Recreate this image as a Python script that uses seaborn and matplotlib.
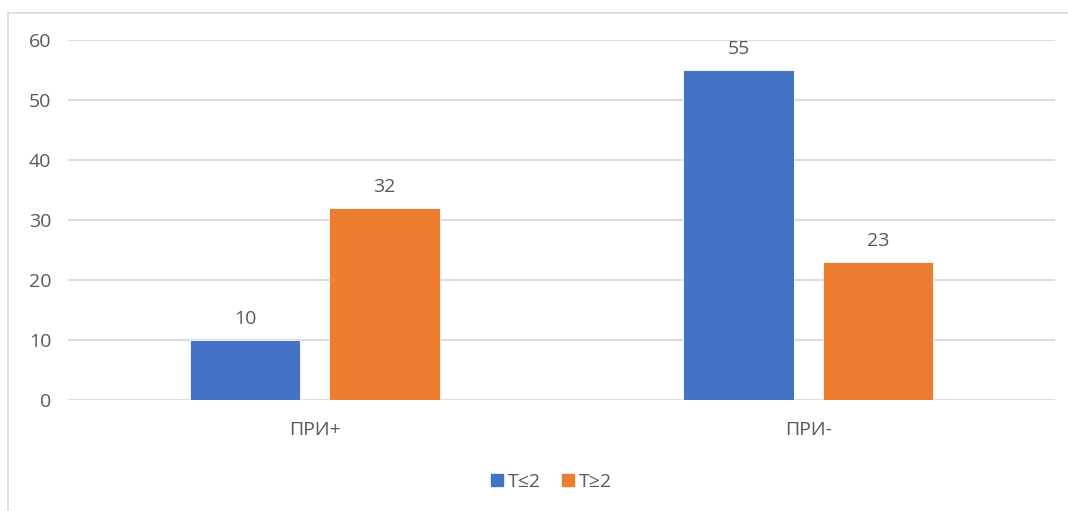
import matplotlib
matplotlib.use("Agg")
import matplotlib.pyplot as plt
from matplotlib.lines import Line2D
import seaborn as sns
import pandas as pd

categories = ["ПРИ+", "ПРИ-"]
series_names = ["T≤2", "T≥2"]
values_t_le2 = [10, 55]
values_t_ge2 = [32, 23]
y_ticks = [0, 10, 20, 30, 40, 50, 60]

colors = ["#4472C4", "#ED7D31"]
text_color = "#595959"
grid_color = "#D9D9D9"

df = pd.DataFrame({
    "category": categories * 2,
    "series": [series_names[0]] * 2 + [series_names[1]] * 2,
    "value": values_t_le2 + values_t_ge2,
})

sns.set_theme(style="white")
plt.rcParams["font.family"] = ["Open Sans", "Noto Sans", "DejaVu Sans"]

fig = plt.figure(figsize=(10.68, 5.11), dpi=100)
ax = fig.add_axes([68 / 1068, 1 - 400 / 511, (1055 - 68) / 1068, 360 / 511])

sns.barplot(data=df, x="category", y="value", hue="series", order=categories,
            hue_order=series_names, palette=colors, width=0.565, gap=0.21,
            saturation=1, edgecolor="#ffffff", linewidth=0.6, ax=ax, legend=False)

for container in ax.containers:
    ax.bar_label(container, padding=9, fontsize=14, color=text_color)

ax.set_ylim(0, 60)
ax.set_xlim(-0.5, 1.5)
ax.set_yticks(y_ticks)
ax.yaxis.grid(True, color=grid_color, linewidth=1.3)
ax.set_axisbelow(True)
for s in ax.spines.values():
    s.set_visible(False)
ax.set_xlabel("")
ax.set_ylabel("")
ax.tick_params(axis="y", length=0, pad=12, labelsize=14, labelcolor=text_color)
ax.tick_params(axis="x", length=0, pad=15, labelsize=14, labelcolor=text_color)

# Legend below the plot
handles = [Line2D([0], [0], marker="s", linestyle="", markersize=9,
                  markerfacecolor=c, markeredgecolor=c) for c in colors]
fig.legend(handles, series_names, loc="center", bbox_to_anchor=(550 / 1068, 1 - 482 / 511),
           ncol=2, frameon=False, fontsize=14, labelcolor=text_color,
           handletextpad=0.05, columnspacing=0.9, handlelength=1.0)

# Chart-area frame (left and top edges)
fig.add_artist(Line2D([8 / 1068, 8 / 1068], [0, 1 - 13 / 511], transform=fig.transFigure,
                      color="#D9D9D9", linewidth=1.2))
fig.add_artist(Line2D([8 / 1068, 1], [1 - 13 / 511, 1 - 13 / 511], transform=fig.transFigure,
                      color="#D9D9D9", linewidth=1.2))

fig.savefig("out.png", dpi=100, facecolor="white")
